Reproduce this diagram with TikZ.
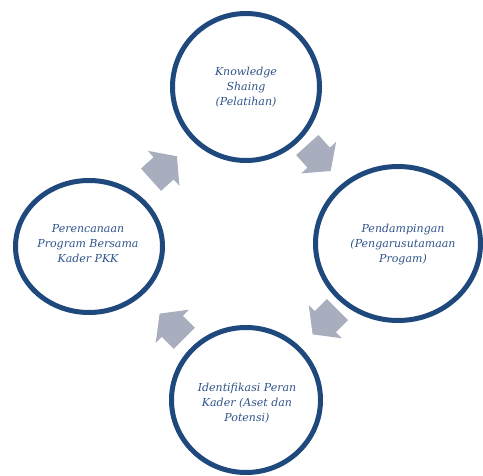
\documentclass[tikz,border=0pt]{standalone}
\usepackage{fontspec}
\setmainfont{DejaVu Serif}
\definecolor{ringblue}{HTML}{1F497D}
\definecolor{txtblue}{HTML}{2F5288}
\definecolor{arrowgray}{HTML}{A8AEBE}
\begin{document}
\begin{tikzpicture}[x=1pt,y=-1pt,
  ring/.style={draw=ringblue,line width=5pt},
  lbl/.style={align=center,text=txtblue,font=\fontsize{11}{15}\selectfont\itshape,inner sep=0pt},
  blockarrow/.style={fill=arrowgray,draw=none}]
\useasboundingbox (0,0) rectangle (483,476);
\clip (0,0) rectangle (483,476);
% circles
\draw[ring] (246,87) ellipse [x radius=73.5,y radius=73.5];
\draw[ring] (398,243.5) ellipse [x radius=82.5,y radius=77];
\draw[ring] (246,400) ellipse [x radius=74.5,y radius=72.5];
\draw[ring] (89,246.5) ellipse [x radius=73.5,y radius=66];
% labels
\node[lbl] (ks) at (246,87) {Knowledge\\Shaing\\(Pelatihan)};
\node[lbl] (pd) at (403,245) {Pendampingan\\(Pengarusutamaan\\Progam)};
\node[lbl] (ip) at (247,403) {Identifikasi Peran\\Kader (Aset dan\\Potensi)};
\node[lbl] (pp) at (88,244) {Perencanaan\\Program Bersama\\Kader PKK};
% block arrows
\foreach \cx/\cy/\ang in {164/168/42, 319/158/-48, 325/322/-135, 172/326/135}{
  \begin{scope}[shift={(\cx,\cy)},rotate=\ang]
    \fill[blockarrow] (-17.5,-15) -- (-0.5,-15) -- (-0.5,-23.5) -- (17.5,0) -- (-0.5,23.5) -- (-0.5,15) -- (-17.5,15) -- cycle;
  \end{scope}
}
\end{tikzpicture}
\end{document}
